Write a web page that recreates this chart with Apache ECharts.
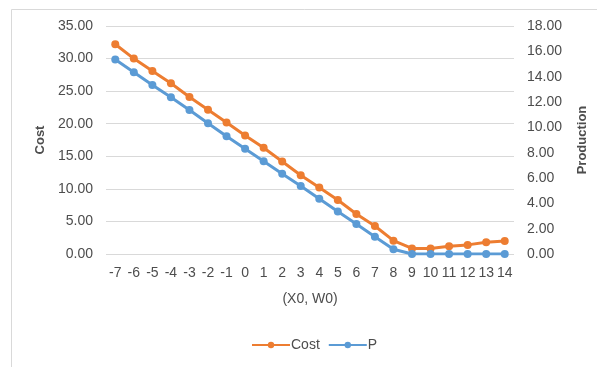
<!DOCTYPE html>
<html>
<head>
<meta charset="utf-8">
<script src="https://cdn.jsdelivr.net/npm/echarts@6/dist/echarts.min.js"></script>
<style>
  html, body { margin: 0; padding: 0; background: #fff; }
  #chart { width: 597px; height: 367px; }
</style>
</head>
<body>
<div id="chart"></div>
<script>
// (X0, W0) offsets along the horizontal axis
const categories = [-7, -6, -5, -4, -3, -2, -1, 0, 1, 2, 3, 4, 5, 6, 7, 8, 9, 10, 11, 12, 13, 14];
// Cost, plotted on the left axis
const costValues = [32.2, 30.0, 28.1, 26.2, 24.1, 22.15, 20.2, 18.2, 16.3, 14.2, 12.1, 10.2, 8.3, 6.15, 4.3, 2.05, 0.85, 0.85, 1.2, 1.4, 1.8, 2.0];
// Production P, plotted on the right axis
const productionValues = [15.35, 14.35, 13.35, 12.37, 11.37, 10.33, 9.3, 8.31, 7.32, 6.34, 5.37, 4.36, 3.35, 2.37, 1.37, 0.37, 0, 0, 0, 0, 0, 0];

const FONT = 'Liberation Sans';
const TEXT = '#4d4d4d';

const chart = echarts.init(document.getElementById('chart'), null, { renderer: 'canvas' });

chart.setOption({
  animation: false,
  backgroundColor: '#ffffff',
  textStyle: { fontFamily: FONT },
  graphic: [{
    type: 'rect',
    shape: { x: 11.5, y: 9.5, width: 620, height: 400 },
    style: { fill: 'none', stroke: '#d9d9d9', lineWidth: 1 },
    silent: true
  }],
  grid: { left: 106, right: 79, top: 26, bottom: 113, containLabel: false },
  legend: {
    bottom: 10,
    left: 246,
    itemWidth: 38,
    itemHeight: 8,
    itemGap: 8,
    textStyle: { fontFamily: FONT, fontSize: 14, color: TEXT, padding: [0, 0, 0, -4] },
    data: ['Cost', 'P']
  },
  xAxis: {
    type: 'category',
    data: categories,
    boundaryGap: true,
    name: '(X0, W0)',
    nameLocation: 'middle',
    nameGap: 38,
    nameTextStyle: { fontFamily: FONT, fontSize: 14, color: TEXT },
    axisLine: { show: false },
    axisTick: { show: false },
    axisLabel: { fontFamily: FONT, fontSize: 14, color: TEXT, margin: 12, interval: 0 },
    splitLine: { show: false }
  },
  yAxis: [{
    type: 'value',
    min: 0, max: 35, interval: 5,
    name: 'Cost',
    nameLocation: 'middle',
    nameRotate: 90,
    nameGap: 55,
    nameTextStyle: { fontFamily: FONT, fontSize: 13, fontWeight: 'bold', color: TEXT },
    axisLine: { show: false },
    axisTick: { show: false },
    axisLabel: { fontFamily: FONT, fontSize: 14, color: TEXT, margin: 13, formatter: v => v.toFixed(2) },
    splitLine: { lineStyle: { color: '#d9d9d9', width: 1 } }
  }, {
    type: 'value',
    min: 0, max: 18, interval: 2,
    name: 'Production',
    nameLocation: 'middle',
    nameRotate: 90,
    nameGap: 62,
    nameTextStyle: { fontFamily: FONT, fontSize: 13, fontWeight: 'bold', color: TEXT },
    axisLine: { show: false },
    axisTick: { show: false },
    axisLabel: { fontFamily: FONT, fontSize: 14, color: TEXT, margin: 13, formatter: v => v.toFixed(2) },
    splitLine: { show: false }
  }],
  series: [{
    name: 'Cost',
    type: 'line',
    yAxisIndex: 0,
    data: costValues,
    symbol: 'circle',
    symbolSize: 8,
    itemStyle: { color: '#ed7d31' },
    lineStyle: { color: '#ed7d31', width: 3 }
  }, {
    name: 'P',
    type: 'line',
    yAxisIndex: 1,
    data: productionValues,
    symbol: 'circle',
    symbolSize: 8,
    itemStyle: { color: '#5b9bd5' },
    lineStyle: { color: '#5b9bd5', width: 3 }
  }]
});
</script>
</body>
</html>
